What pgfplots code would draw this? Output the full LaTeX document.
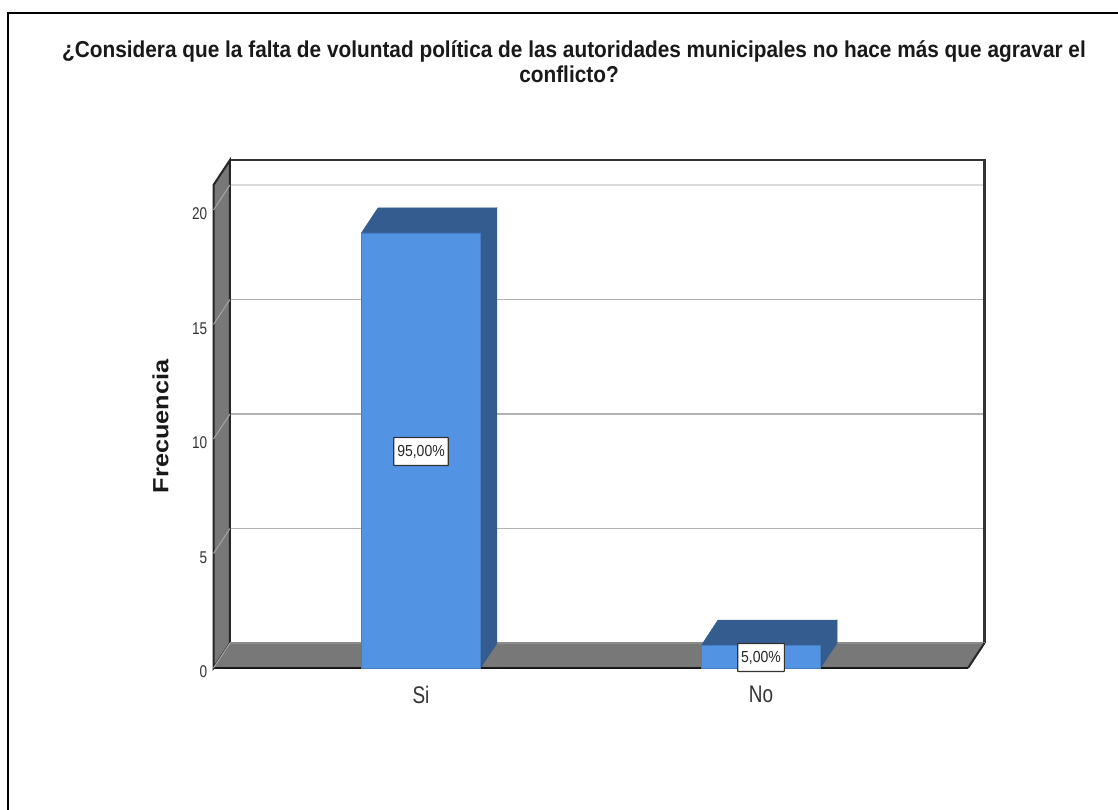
\documentclass[border=0pt]{standalone}
\usepackage{fontspec}
\setmainfont{Liberation Sans}
\newfontfamily\tickf[FakeStretch=0.8]{Liberation Sans}
\newfontfamily\catf[FakeStretch=0.79]{Liberation Sans}
\newfontfamily\labf[FakeStretch=1.15]{Liberation Sans}
\newfontfamily\titf[FakeStretch=0.905]{Liberation Sans}
\newfontfamily\boxf[FakeStretch=0.875]{Liberation Sans}
\usepackage{pgfplots}
\pgfplotsset{compat=1.18}
\definecolor{barfront}{HTML}{5393E4}
\definecolor{bardark}{HTML}{355C8F}
\definecolor{wall}{HTML}{787878}
\begin{document}
\begin{tikzpicture}[x=1pt,y=1pt]
\useasboundingbox (-213.5,-142) rectangle (904.5,668);
\begin{axis}[
  at={(0,0)},anchor=south west,
  scale only axis,width=754.5pt,height=483pt,
  xmin=-0.6103,xmax=1.6088,ymin=0,ymax=21.09,
  clip=false,
  axis line style={draw=none},
  major tick length=0pt,
  xtick={0,1},xticklabels={Si,No},
  ytick={0,5,10,15,20},
  xtick pos=lower,ytick pos=left,
  /pgf/number format/assume math mode=true,
  yticklabel style={font=\tickf\fontsize{17}{18}\selectfont,text=black!80,inner sep=0pt,xshift=-6pt,yshift=-4pt},
  xticklabel style={font=\catf\fontsize{24}{25}\selectfont,text=black!80,inner sep=0pt,yshift=-18pt},
]
% back grid
\addplot[draw=black!14,line width=2.5pt,forget plot] coordinates {(-0.5618,21.09) (1.6573,21.09)};
\addplot[draw=black!30,line width=1.5pt,forget plot] coordinates {(-0.5618,16.09) (1.6573,16.09)};
\addplot[draw=black!30,line width=1.5pt,forget plot] coordinates {(-0.5618,11.09) (1.6573,11.09)};
\addplot[draw=black!30,line width=1.5pt,forget plot] coordinates {(-0.5618,6.09) (1.6573,6.09)};
% back frame
\addplot[draw=black!80,line width=2.2pt,line join=miter,forget plot] coordinates {(-0.5618,22.18) (1.6573,22.18) (1.6573,1.09)};
% left wall
\addplot[fill=wall,draw=black!85,line width=2pt,line join=miter,forget plot] coordinates {(-0.6103,0) (-0.5618,1.09) (-0.5618,22.18) (-0.6103,21.09)} -- cycle;
% floor
\addplot[fill=wall,draw=none,forget plot] coordinates {(-0.6103,0) (1.6088,0) (1.6573,1.09) (-0.5618,1.09)} -- cycle;
\addplot[draw=black!45,line width=1.5pt,forget plot] coordinates {(-0.5618,1.09) (1.6573,1.09)};
\addplot[draw=black!85,line width=2pt,forget plot] coordinates {(1.6088,0) (1.6573,1.09)};
\addplot[draw=black!90,line width=2pt,forget plot] coordinates {(-0.6103,0) (1.6088,0)};
% wall grid
\addplot[draw=black!35,line width=1pt,forget plot] coordinates {(-0.6103,0) (-0.5618,1.09)};
\addplot[draw=black!35,line width=1pt,forget plot] coordinates {(-0.6103,5) (-0.5618,6.09)};
\addplot[draw=black!35,line width=1pt,forget plot] coordinates {(-0.6103,10) (-0.5618,11.09)};
\addplot[draw=black!35,line width=1pt,forget plot] coordinates {(-0.6103,15) (-0.5618,16.09)};
\addplot[draw=black!35,line width=1pt,forget plot] coordinates {(-0.6103,20) (-0.5618,21.09)};
% bars: top and side faces
\addplot[fill=bardark,draw=bardark,line width=.5pt,forget plot] coordinates {(-0.175,19) (0.175,19) (0.2235,20.09) (-0.1265,20.09)} -- cycle;
\addplot[fill=bardark,draw=bardark,line width=.5pt,forget plot] coordinates {(0.175,0) (0.2235,1.09) (0.2235,20.09) (0.175,19)} -- cycle;
\addplot[fill=bardark,draw=bardark,line width=.5pt,forget plot] coordinates {(0.825,1) (1.175,1) (1.2235,2.09) (0.8735,2.09)} -- cycle;
\addplot[fill=bardark,draw=bardark,line width=.5pt,forget plot] coordinates {(1.175,0) (1.2235,1.09) (1.2235,2.09) (1.175,1)} -- cycle;
% bars: front
\addplot[ybar,bar width=119pt,bar shift=0pt,fill=barfront,draw=barfront!85!black,line width=.5pt,forget plot] coordinates {(0,19) (1,1)};
% percentage labels
\addplot[draw=none,mark=none,forget plot,
  point meta=explicit symbolic,
  nodes near coords,
  every node near coord/.append style={anchor=center,fill=white,draw=black!80,line width=1.2pt,
    font=\boxf\fontsize{16}{17}\selectfont,text=black!85,inner xsep=3.5pt,inner ysep=0pt,minimum height=28pt,rounded corners=.5pt}]
  coordinates {(0,9.45)[95,00\%] (1,0.46)[5,00\%]};
\end{axis}
% frame of the image
\draw[black,line width=2pt] (-205.5,-142) -- (-205.5,655) -- (904.5,655);
% title
\node[font=\titf\bfseries\fontsize{23}{25}\selectfont,anchor=base,text=black!90] at (360.5,610.5)
  {¿Considera que la falta de voluntad política de las autoridades municipales no hace más que agravar el};
\node[font=\titf\bfseries\fontsize{23}{25}\selectfont,anchor=base,text=black!90] at (355.5,585.5) {conflicto?};
% y label
\node[font=\labf\bfseries\fontsize{22}{24}\selectfont,rotate=90,anchor=center,text=black!90] at (-53,241.5) {Frecuencia};
\end{tikzpicture}
\end{document}
